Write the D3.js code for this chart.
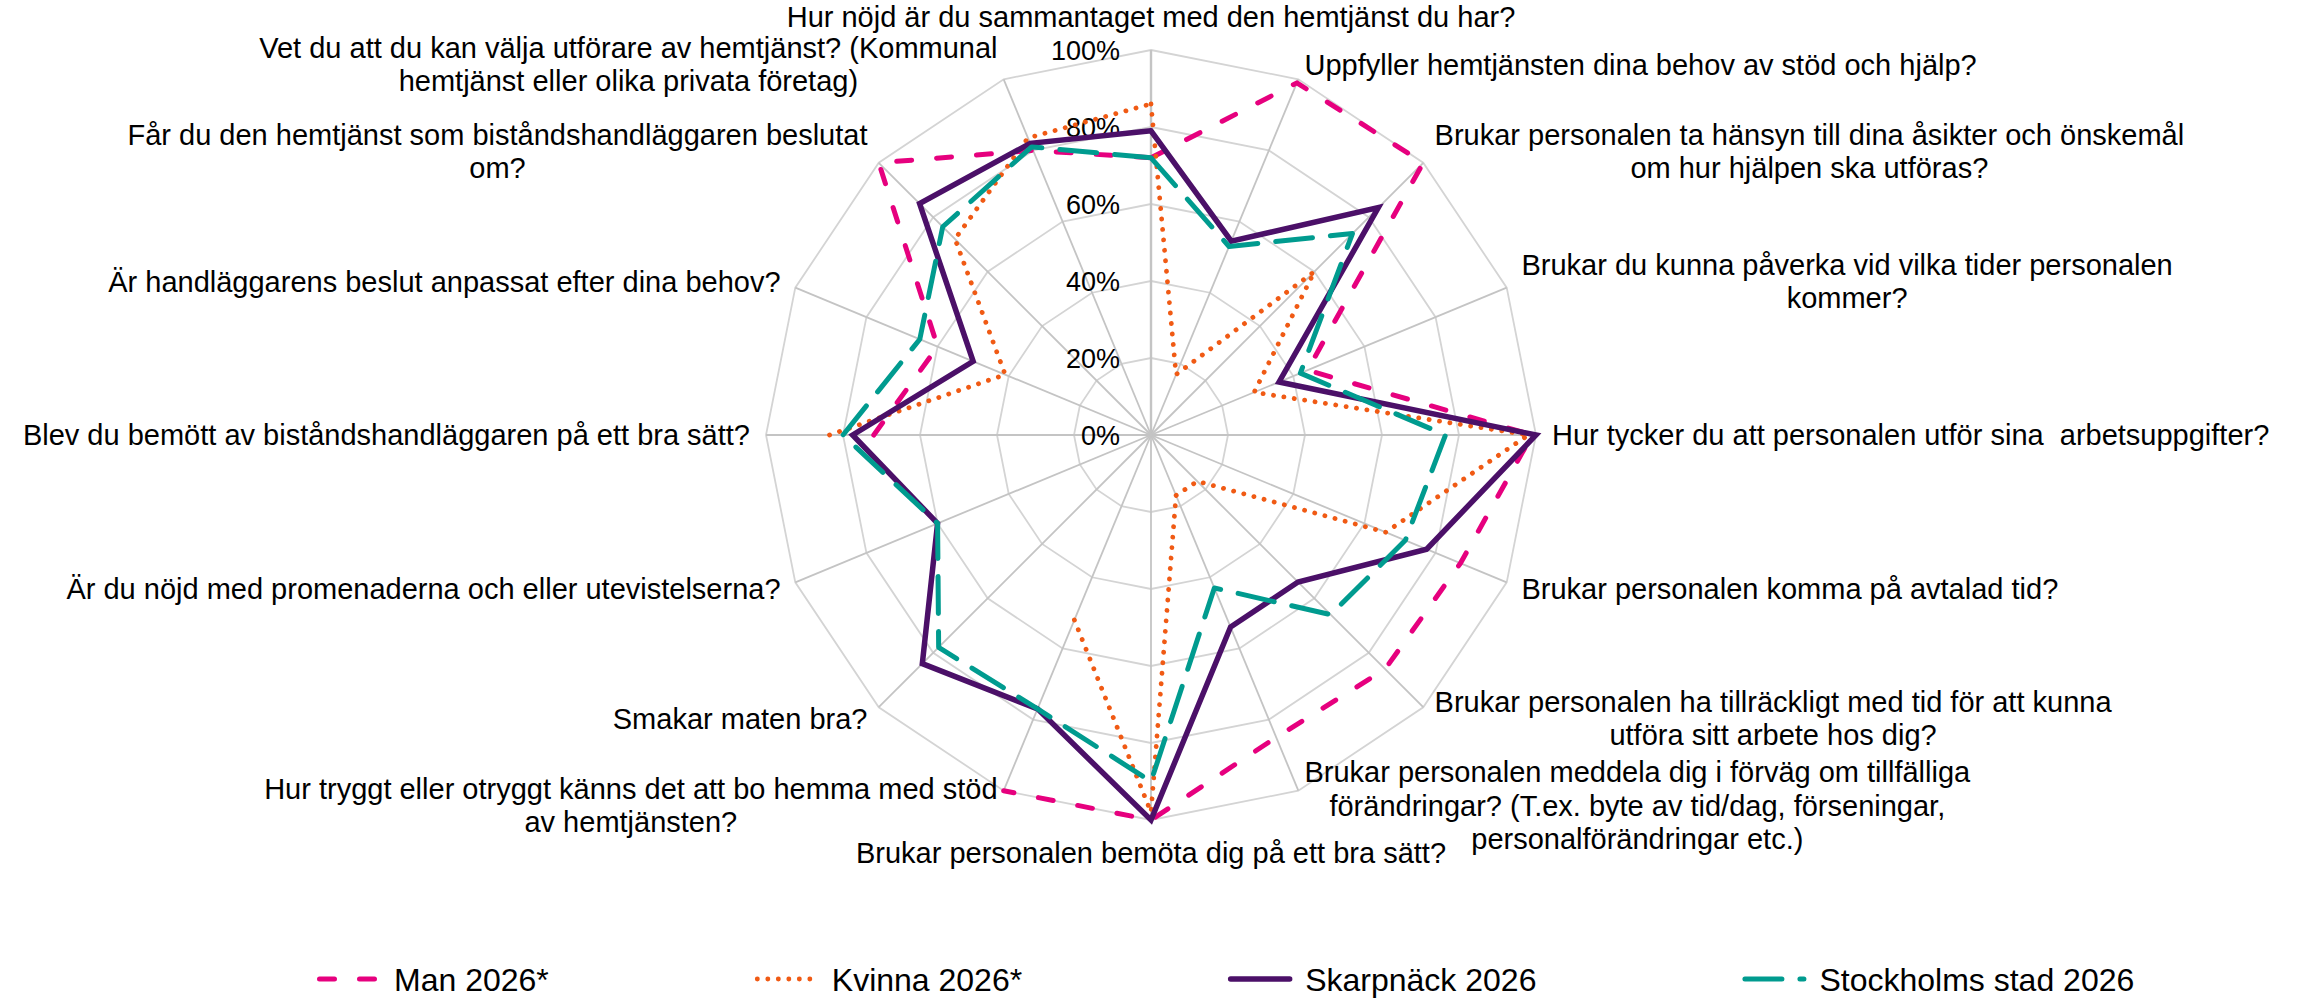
<!DOCTYPE html>
<html>
<head>
<meta charset="utf-8">
<script src="https://cdn.jsdelivr.net/npm/d3@7"></script>
<style>
  body { margin: 0; background: #fff; }
  svg { display: block; font-family: "Liberation Sans", Arial, sans-serif; }
</style>
</head>
<body>
<div id="chart"></div>
<script>
// questions, clockwise from the top
var categories = [
  "Hur nöjd är du sammantaget med den hemtjänst du har?",
  "Uppfyller hemtjänsten dina behov av stöd och hjälp?",
  "Brukar personalen ta hänsyn till dina åsikter och önskemål\nom hur hjälpen ska utföras?",
  "Brukar du kunna påverka vid vilka tider personalen\nkommer?",
  "Hur tycker du att personalen utför sina  arbetsuppgifter?",
  "Brukar personalen komma på avtalad tid?",
  "Brukar personalen ha tillräckligt med tid för att kunna\nutföra sitt arbete hos dig?",
  "Brukar personalen meddela dig i förväg om tillfälliga\nförändringar? (T.ex. byte av tid/dag, förseningar,\npersonalförändringar etc.)",
  "Brukar personalen bemöta dig på ett bra sätt?",
  "Hur tryggt eller otryggt känns det att bo hemma med stöd\nav hemtjänsten?",
  "Smakar maten bra?",
  "Är du nöjd med promenaderna och eller utevistelserna?",
  "Blev du bemött av biståndshandläggaren på ett bra sätt?",
  "Är handläggarens beslut anpassat efter dina behov?",
  "Får du den hemtjänst som biståndshandläggaren beslutat\nom?",
  "Vet du att du kan välja utförare av hemtjänst? (Kommunal\nhemtjänst eller olika privata företag)"
]

var seriesNames = ["Man 2026*", "Kvinna 2026*", "Skarpnäck 2026", "Stockholms stad 2026"]

var man2026 = [0.72, 0.99, 1.00, 0.44, 0.99, 0.87, 0.86, 0.85, 1.00, 1.00, null, null, 0.72, 0.60, 1.00, 0.80]
var kvinna2026 = [0.86, 0.17, 0.60, 0.29, 0.98, 0.66, 0.17, 0.17, 0.98, 0.52, null, null, 0.835, 0.41, 0.72, 0.835]
var skarpnack2026 = [0.79, 0.545, 0.835, 0.36, 1.00, 0.775, 0.54, 0.54, 1.00, 0.77, 0.84, 0.60, 0.775, 0.50, 0.85, 0.82]
var stockholm2026 = [0.72, 0.53, 0.74, 0.42, 0.765, 0.715, 0.66, 0.43, 0.90, 0.77, 0.78, 0.60, 0.80, 0.65, 0.765, 0.81]

var ticks = [0, 0.2, 0.4, 0.6, 0.8, 1.0]

var seriesValues = [man2026, kvinna2026, skarpnack2026, stockholm2026]
var colors = ["#e6007e", "#f05a14", "#4b1068", "#009b8f"]
var dashes = ["15,25", "0.1,10.4", null, "37,18"]
var widths = [5, 4.8, 5.5, 5]

var width = 2305, height = 998
var cx = 1151, cy = 435, R = 385

var svg = d3.select("#chart")
  .append("svg")
  .attr("width", width)
  .attr("height", height)

var r = d3.scaleLinear().domain([0, 1]).range([0, R])
var n = categories.length
var angle = i => i * 2 * Math.PI / n

var g = svg.append("g")
  .attr("transform", "translate(" + cx + "," + cy + ")")

// web rings
var ring = d3.lineRadial()
  .angle((d, i) => angle(i))
  .radius(d => r(d))
  .curve(d3.curveLinearClosed)

g.selectAll(".ring")
  .data(ticks.slice(1))
  .enter()
  .append("path")
  .attr("d", t => ring(categories.map(() => t)))
  .attr("fill", "none")
  .attr("stroke", "#d4d4d4")
  .attr("stroke-width", 1.8)

// spokes
g.selectAll(".spoke")
  .data(categories)
  .enter()
  .append("line")
  .attr("x1", 0).attr("y1", 0)
  .attr("x2", (d, i) => r(1) * Math.sin(angle(i)))
  .attr("y2", (d, i) => -r(1) * Math.cos(angle(i)))
  .attr("stroke", "#c4c4c4")
  .attr("stroke-width", (d, i) => i == 0 ? 2.4 : 1.8)

// value axis labels
g.selectAll(".tick")
  .data(ticks)
  .enter()
  .append("text")
  .attr("x", -31)
  .attr("y", d => -r(d))
  .attr("dy", "0.36em")
  .attr("text-anchor", "end")
  .style("font-size", "27px")
  .attr("fill", "#000")
  .text(d3.format(".0%"))

// category labels
var labelSize = 29, lineH = 33.5, off = 16
categories.forEach((c, i) => {
  var a = angle(i)
  var s = Math.sin(a), co = Math.cos(a)
  var px = (r(1) + off) * s, py = -(r(1) + off) * co
  var lines = c.split("\n")
  var t = g.append("text")
    .style("font-size", labelSize + "px")
    .style("white-space", "pre")
    .attr("fill", "#000")
    .attr("text-anchor", "middle")
  var spans = lines.map(l => t.append("tspan").text(l))
  var maxW = d3.max(spans, sp => sp.node().getComputedTextLength())
  var blockH = lines.length * lineH
  var x, top
  if (Math.abs(s) < 0.01) {
    x = px
    top = co > 0 ? py - blockH : py
  } else {
    x = s > 0 ? px + maxW / 2 : px - maxW / 2
    top = py - blockH / 2
  }
  spans.forEach((sp, k) => {
    sp.attr("x", x).attr("y", top + lineH * (k + 0.5)).attr("dy", "0.35em")
  })
})

// series lines, closed by repeating the first point
var line = d3.lineRadial()
  .defined(d => d.v != null)
  .angle(d => angle(d.i))
  .radius(d => r(d.v))

seriesValues.forEach((vals, s) => {
  var pts = vals.map((v, i) => ({ i: i, v: v }))
  pts.push({ i: n, v: vals[0] })
  g.append("path")
    .attr("d", line(pts))
    .attr("fill", "none")
    .attr("stroke", colors[s])
    .attr("stroke-width", widths[s])
    .attr("stroke-dasharray", dashes[s])
    .attr("stroke-linecap", "round")
    .attr("stroke-linejoin", s == 2 ? "miter" : "round")
})

// legend
var legend = svg.append("g")
var lx = 317, ly = 979, sampleW = 64, textGap = 13, itemGap = 206
seriesNames.forEach((name, s) => {
  var item = legend.append("g").attr("transform", "translate(" + lx + "," + ly + ")")
  item.append("line")
    .attr("x1", 2.5).attr("x2", sampleW - 2.5)
    .attr("stroke", colors[s])
    .attr("stroke-width", widths[s])
    .attr("stroke-dasharray", dashes[s])
    .attr("stroke-linecap", "round")
  var txt = item.append("text")
    .attr("x", sampleW + textGap)
    .attr("dy", "0.36em")
    .style("font-size", "32px")
    .attr("fill", "#000")
    .text(name)
  lx += sampleW + textGap + txt.node().getComputedTextLength() + itemGap
})
</script>
</body>
</html>
